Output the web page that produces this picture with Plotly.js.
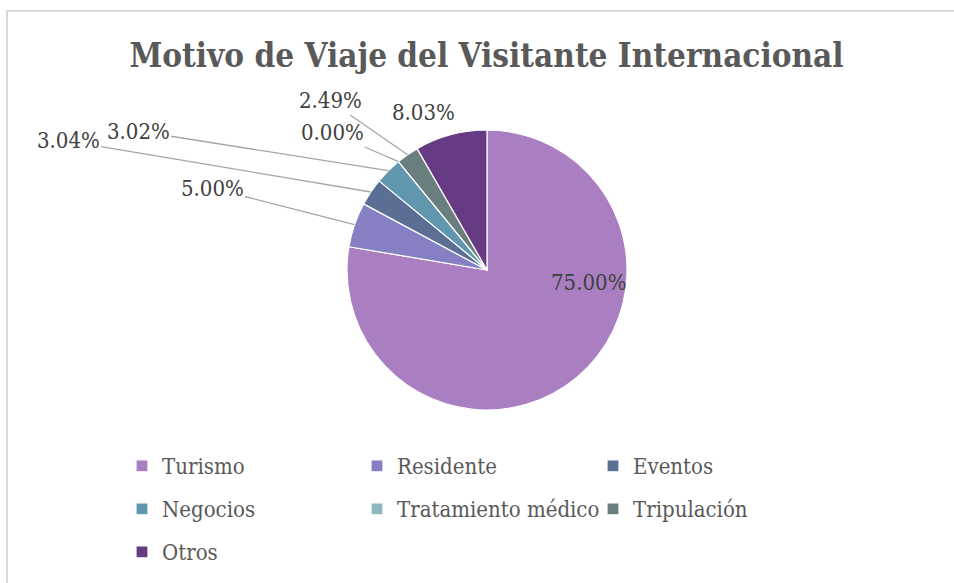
<!DOCTYPE html>
<html>
<head>
<meta charset="utf-8">
<script src="https://cdn.plot.ly/plotly-3.0.1.min.js"></script>
<style>html,body{margin:0;padding:0;background:#fff;}#chart{width:954px;height:583px;}</style>
</head>
<body>
<div id="chart"></div>
<script>
// ---- data ----
const categories = ["Turismo", "Residente", "Eventos", "Negocios", "Tratamiento médico", "Tripulación", "Otros"];
const values = [75.00, 5.00, 3.04, 3.02, 0.00, 2.49, 8.03];
const colors = ["#A97FC2", "#8580C4", "#5B6F95", "#6096AE", "#8FB7C0", "#6A7E7F", "#673A84"];
const titleText = "Motivo de Viaje del Visitante Internacional";

// ---- layout config ----
const W = 954, H = 583;
const cx = 487, cy = 270, R = 140;
// label centres (px), index-aligned with categories
const labelPos = [[588, 282], [212, 188], [68, 141], [138, 131], [332, 133], [330, 101], [423, 113]];
const leader = [false, true, true, true, true, true, false];
const FONT = "'DejaVu Serif Condensed', 'DejaVu Serif', serif";
const LEGEND_ROW_GAP = 43;
const LEGEND_COL_OFFSETS = [0, 235, 471];

const total = values.reduce((a, b) => a + b, 0);
const annotations = [];
let cum = 0;
values.forEach((v, i) => {
  const start = cum / total * 360;
  cum += v;
  const end = cum / total * 360;
  const mid = (start + end) / 2 * Math.PI / 180;
  const ex = cx + R * Math.sin(mid), ey = cy - R * Math.cos(mid);
  const [lx, ly] = labelPos[i];
  const txt = v.toFixed(2) + "%";
  const font = {family: FONT, size: 22, color: "#404040"};
  if (leader[i]) {
    annotations.push({
      xref: "paper", yref: "paper", x: ex / W, y: 1 - ey / H,
      ax: lx - ex, ay: ly - ey, showarrow: true, arrowhead: 0, arrowwidth: 1.3,
      arrowcolor: "#a6a6a6", text: txt, font: font
    });
  } else {
    annotations.push({
      xref: "paper", yref: "paper", x: lx / W, y: 1 - ly / H, showarrow: false,
      xanchor: "center", yanchor: "middle", text: txt, font: font
    });
  }
});

const trace = {
  type: "pie",
  labels: categories,
  values: values,
  sort: false,
  direction: "clockwise",
  rotation: 0,
  marker: {colors: colors, line: {color: "#ffffff", width: 1.2}},
  textinfo: "none",
  hoverinfo: "label+value",
  domain: {x: [(cx - R) / W, (cx + R) / W], y: [1 - (cy + R) / H, 1 - (cy - R) / H]}
};

const layout = {
  width: W, height: H,
  margin: {l: 0, r: 0, t: 0, b: 0},
  paper_bgcolor: "#ffffff",
  title: {text: "<b>" + titleText + "</b>", font: {family: FONT, size: 33, color: "#595959"},
         x: 0.51, xanchor: "center", y: 1 - 55 / H, yanchor: "middle"},
  showlegend: true,
  legend: {orientation: "h", x: 122 / W, xanchor: "left", y: 1 - 445 / H, yanchor: "top",
           entrywidth: 210, entrywidthmode: "pixels", traceorder: "normal", bgcolor: "rgba(0,0,0,0)",
           font: {family: FONT, size: 22, color: "#595959"}},
  annotations: annotations,
  shapes: [{type: "rect", xref: "paper", yref: "paper", x0: 7 / W, x1: 1.05, y0: -0.05, y1: 1 - 11 / H,
            line: {color: "#d9d9d9", width: 2}, fillcolor: "rgba(0,0,0,0)"}]
};

Plotly.newPlot("chart", [trace], layout, {displayModeBar: false, staticPlot: true}).then(gd => {
  // place legend entries on the reference's 3-column grid with its row spacing
  const items = Array.from(gd.querySelectorAll(".legend .traces"));
  const parsed = items.map(el => {
    const m = /translate\(\s*([-\d.]+)[ ,]+([-\d.]+)\s*\)/.exec(el.getAttribute("transform") || "");
    return m ? [parseFloat(m[1]), parseFloat(m[2])] : [0, 0];
  });
  if (!parsed.length) return;
  const [x0, y0] = parsed[0];
  items.forEach((el, i) => {
    const col = i % 3, row = Math.floor(i / 3);
    el.setAttribute("transform", `translate(${x0 + LEGEND_COL_OFFSETS[col]},${y0 + row * LEGEND_ROW_GAP})`);
  });
  gd.querySelectorAll(".legend .scrollbox").forEach(s => s.removeAttribute("clip-path"));
});
</script>
</body>
</html>
